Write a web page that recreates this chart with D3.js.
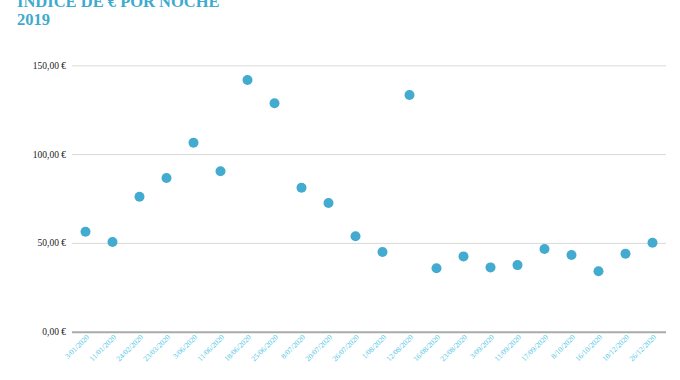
<!DOCTYPE html>
<html>
<head>
<meta charset="utf-8">
<script src="https://cdn.jsdelivr.net/npm/d3@7"></script>
<style>
  html, body { margin: 0; padding: 0; background: #fff; }
  svg { display: block; }
</style>
</head>
<body>
<svg id="chart" width="680" height="380"></svg>
<script>
const titleLines = ["INDICE DE € POR NOCHE", "2019"];
const dates = ["3/01/2020","11/01/2020","24/02/2020","23/03/2020","3/06/2020","11/06/2020","18/06/2020","25/06/2020","8/07/2020","20/07/2020","26/07/2020","1/08/2020","12/08/2020","16/08/2020","23/08/2020","3/09/2020","11/09/2020","17/09/2020","8/10/2020","16/10/2020","10/12/2020","26/12/2020"];
const values = [56.3,50.5,76.0,86.5,106.4,90.3,141.7,128.6,81.1,72.5,53.7,44.9,133.3,35.7,42.4,36.2,37.5,46.6,43.2,34.0,43.9,50.1];
const yTicks = [0,50,100,150];

(function () {
const svg = d3.select("#chart");
const mLeft = 72, mRight = 666, mTop = 65.3, mBottom = 331.7;

const x = d3.scaleBand().domain(dates).range([mLeft, mRight]);
const y = d3.scaleLinear().domain([0,150]).range([mBottom, mTop]);

const fmt = v => d3.format(".2f")(v).replace(".", ",") + " €";

// title
svg.append("text")
  .attr("x", 17).attr("y", 7)
  .attr("fill", "#3eaacd")
  .attr("font-family", "Liberation Serif, Times New Roman, serif")
  .attr("font-weight", "bold")
  .attr("font-size", 16.5)
  .selectAll("tspan").data(titleLines).join("tspan")
  .attr("x", 17).attr("dy", (d,i) => i ? 18 : 0)
  .text(d => d);

// y axis
const yAxis = svg.append("g")
  .attr("transform", `translate(${mLeft},0)`)
  .call(d3.axisLeft(y).tickValues(yTicks).tickFormat(fmt).tickSize(-(mRight-mLeft)).tickPadding(6));
yAxis.select(".domain").remove();
yAxis.selectAll(".tick line").attr("stroke", "#d9d9d9").attr("stroke-width", 1);
yAxis.selectAll(".tick").filter(d => d === 0).select("line").attr("stroke", "#aaaaaa").attr("stroke-width", 2);
yAxis.selectAll(".tick text")
  .attr("fill", "#222")
  .attr("font-family", "Liberation Serif, Times New Roman, serif")
  .attr("font-size", 9.5);

// x axis
const xAxis = svg.append("g")
  .attr("transform", `translate(0,${mBottom})`)
  .call(d3.axisBottom(x).tickSize(0).tickPadding(0));
xAxis.select(".domain").remove();
xAxis.selectAll(".tick text")
  .attr("fill", "#4cc6e6")
  .attr("font-family", "Liberation Serif, Times New Roman, serif")
  .attr("font-size", 7.5)
  .attr("text-anchor", "end")
  .attr("dy", null)
  .attr("transform", "translate(4,6) rotate(-45)");

// points
svg.append("g").selectAll("circle")
  .data(values).join("circle")
  .attr("cx", (d,i) => x(dates[i]) + x.bandwidth()/2)
  .attr("cy", d => y(d))
  .attr("r", 5)
  .attr("fill", "#43abcf");
})();
</script>
</body>
</html>
